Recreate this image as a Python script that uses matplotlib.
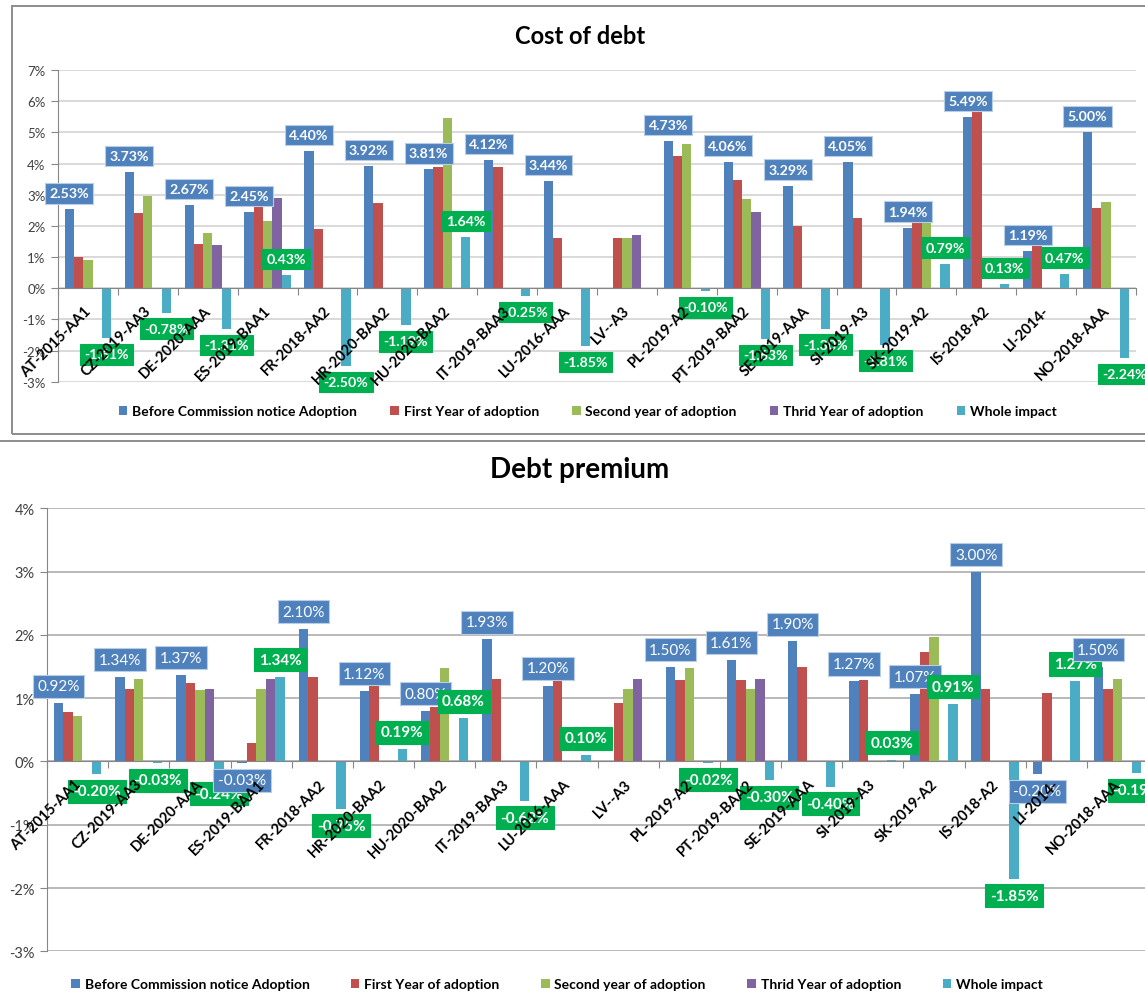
import numpy as np
import matplotlib
matplotlib.use("Agg")
import matplotlib.pyplot as plt
from matplotlib.patches import Patch, Rectangle
from matplotlib.lines import Line2D
from matplotlib.ticker import FuncFormatter
import matplotlib.transforms as mtransforms

plt.rcParams['font.family'] = ['Lato', 'DejaVu Sans']

nan = np.nan

categories = ["AT-2015-AA1", "CZ-2019-AA3", "DE-2020-AAA", "ES-2019-BAA1", "FR-2018-AA2",
              "HR-2020-BAA2", "HU-2020-BAA2", "IT-2019-BAA3", "LU-2016-AAA", "LV--A3",
              "PL-2019-A2", "PT-2019-BAA2", "SE-2019-AAA", "SI-2019-A3", "SK-2019-A2",
              "IS-2018-A2", "LI-2014-", "NO-2018-AAA"]

series_names = ["Before Commission notice Adoption", "First Year of adoption",
                "Second year of adoption", "Thrid Year of adoption", "Whole impact"]

# Cost of debt (%)
cost_before = [2.53, 3.73, 2.67, 2.45, 4.40, 3.92, 3.81, 4.12, 3.44, nan,
               4.73, 4.06, 3.29, 4.05, 1.94, 5.49, 1.19, 5.00]
cost_first = [1.01, 2.41, 1.41, 2.65, 1.89, 2.74, 3.88, 3.88, 1.60, 1.60,
              4.24, 3.46, 2.00, 2.24, 2.12, 5.66, 1.35, 2.57]
cost_second = [0.91, 2.96, 1.76, 2.15, nan, nan, 5.46, nan, nan, 1.60,
               4.63, 2.86, nan, nan, 2.15, nan, nan, 2.76]
cost_third = [nan, nan, 1.37, 2.88, nan, nan, nan, nan, nan, 1.72,
              nan, 2.44, nan, nan, nan, nan, nan, nan]
cost_whole = [-1.61, -0.78, -1.31, 0.43, -2.50, -1.19, 1.64, -0.25, -1.85, nan,
              -0.10, -1.63, -1.30, -1.81, 0.79, 0.13, 0.47, -2.24]

# Debt premium (%)
prem_before = [0.92, 1.34, 1.37, -0.03, 2.10, 1.12, 0.80, 1.93, 1.20, nan,
               1.50, 1.61, 1.90, 1.27, 1.07, 3.00, -0.20, 1.50]
prem_first = [0.78, 1.15, 1.24, 0.29, 1.33, 1.20, 0.86, 1.31, 1.28, 0.93,
              1.29, 1.29, 1.50, 1.29, 1.73, 1.15, 1.08, 1.15]
prem_second = [0.72, 1.31, 1.13, 1.15, nan, nan, 1.47, nan, nan, 1.15,
               1.47, 1.15, nan, nan, 1.97, nan, nan, 1.31]
prem_third = [nan, nan, 1.14, 1.31, nan, nan, nan, nan, nan, 1.31,
              nan, 1.31, nan, nan, nan, nan, nan, nan]
prem_whole = [-0.20, -0.03, -0.24, 1.34, -0.75, 0.19, 0.68, -0.62, 0.10, nan,
              -0.02, -0.30, -0.40, 0.03, 0.91, -1.85, 1.27, -0.19]

colors = ["#4F81BD", "#C0504D", "#9BBB59", "#8064A2", "#4BACC6"]
BLUE_BOX = "#4F81BD"
GREEN_BOX = "#00B050"

W, H = 1145, 1003
fig = plt.figure(figsize=(W / 100, H / 100), dpi=100)


def px_axes(x0, y0, x1, y1):
    return fig.add_axes([x0 / W, 1 - y1 / H, (x1 - x0) / W, (y1 - y0) / H])


def draw_chart(ax, series, ylim, grid_color, tick_fs, lab_fs, blue_bold):
    n = len(categories)
    x = np.arange(n)
    bw = 0.155
    for i, vals in enumerate(series):
        ax.bar(x + (i - 2) * bw, np.array(vals, dtype=float), width=bw,
               color=colors[i], zorder=3, linewidth=0)
    ax.set_xlim(-0.5, n - 0.5)
    ax.set_ylim(*ylim)
    ax.set_yticks(np.arange(ylim[0], ylim[1] + 1))
    ax.yaxis.set_major_formatter(FuncFormatter(lambda v, p: f"{int(round(v))}%"))
    ax.tick_params(axis='y', length=5, color="#868686", labelsize=tick_fs,
                   labelcolor="#404040", pad=4)
    ax.grid(axis='y', color=grid_color, linewidth=1.1, zorder=0)
    for s in ("top", "right"):
        ax.spines[s].set_visible(False)
    ax.spines['left'].set_color("#868686")
    ax.spines['bottom'].set_position(('data', 0))
    ax.spines['bottom'].set_color("#868686")
    ax.spines['bottom'].set_zorder(4)
    ax.set_xticks(np.arange(n + 1) - 0.5)
    ax.set_xticklabels([])
    ax.tick_params(axis='x', direction='out', length=5, color="#868686")

    # category labels, rotated, ending near the category centre below the zero line
    for i, c in enumerate(categories):
        tr = mtransforms.offset_copy(ax.transData, fig=fig, x=1, y=-20, units='dots')
        ax.text(i, 0, c, transform=tr, rotation=45, rotation_mode='anchor',
                ha='right', va='center', fontsize=10.5, fontweight='bold',
                color='black', zorder=10, clip_on=False)

    # value boxes for the first and last series
    def label(xpos, v, box, bold):
        if np.isnan(v):
            return
        off = 10 if v >= 0 else -10
        ax.annotate(f"{v:.2f}%", (xpos, v), xytext=(0, off), textcoords='offset pixels',
                    ha='center', va='bottom' if v >= 0 else 'top',
                    fontsize=lab_fs, color='white',
                    fontweight='bold' if bold else 'normal', zorder=8,
                    bbox=dict(boxstyle='square,pad=0.3', fc=box,
                              ec='#B9CDE5' if box == BLUE_BOX else box, lw=0.8),
                    annotation_clip=False)

    for i in range(n):
        label(x[i] - 2 * bw, series[0][i], BLUE_BOX, blue_bold)
        label(x[i] + 2 * bw, series[4][i], GREEN_BOX, True)


# ---- Cost of debt ----
ax1 = px_axes(58, 71, 1136, 382.7)
draw_chart(ax1, [cost_before, cost_first, cost_second, cost_third, cost_whole],
           (-3, 7), "#D0D0D0", 9.5, 10.2, True)
fig.text(580 / W, 1 - 37 / H, "Cost of debt", ha='center', va='center',
         fontsize=17, fontweight='bold', color='black')

# ---- Debt premium ----
ax2 = px_axes(47, 509.3, 1148, 952.3)
draw_chart(ax2, [prem_before, prem_first, prem_second, prem_third, prem_whole],
           (-3, 4), "#A6A6A6", 10.5, 11, False)
fig.text(580 / W, 1 - 470 / H, "Debt premium", ha='center', va='center',
         fontsize=20, fontweight='bold', color='black')

# legends
handles = [Patch(facecolor=c, edgecolor='none') for c in colors]
for ypix, xc, cs in ((412, 588, 2.4), (985, 557, 3.0)):
    fig.legend(handles, series_names, loc='center', ncol=5,
               bbox_to_anchor=(xc / W, 1 - ypix / H),
               frameon=False, handlelength=0.6, handleheight=0.6,
               handletextpad=0.35, columnspacing=cs,
               prop=dict(weight='bold', size=10))

# frame around the upper chart and separator line
fig.add_artist(Rectangle((12 / W, 1 - 435 / H), (W + 10) / W, (435 - 7) / H,
                         transform=fig.transFigure, fill=False, ec="#8C8C8C", lw=1.4))
fig.add_artist(Line2D([0, 1], [1 - 441.5 / H] * 2, transform=fig.transFigure,
                      color="#8C8C8C", lw=1.4))

fig.savefig("out.png", dpi=100)
